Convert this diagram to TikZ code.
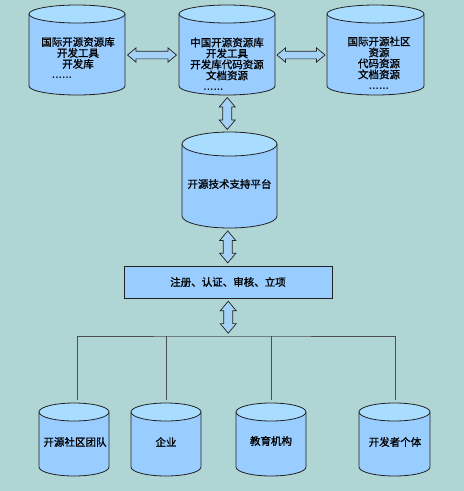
\documentclass[tikz,border=0pt]{standalone}
\usepackage{fontspec}
\newfontfamily\cjk{Noto Sans CJK SC}[AutoFakeBold=1.2]
\usetikzlibrary{shapes.arrows,calc}
\definecolor{bgc}{HTML}{B0D5D5}
\definecolor{bodyc}{HTML}{99CCFF}
\definecolor{topc}{HTML}{A8DDFF}
\definecolor{arrowc}{HTML}{A4D2F6}
\definecolor{linec}{HTML}{222222}
\tikzset{
  lbl/.style={font=\cjk\bfseries\fontsize{10.5}{11}\selectfont, align=center, inner sep=0pt},
  outl/.style={draw=linec, line width=0.8pt},
  tree/.style={draw=linec!80, line width=0.8pt},
  darrowh/.style={double arrow, draw=linec, fill=arrowc, line width=0.7pt, inner sep=3.5pt,
    double arrow head extend=3.2pt, double arrow tip angle=80, minimum width=14pt},
  darrowv/.style={double arrow, draw=linec, fill=arrowc, line width=0.7pt, inner sep=4.2pt,
    double arrow head extend=3.5pt, double arrow tip angle=80, minimum width=15.5pt, shape border rotate=90},
}
% name, cx, ytop, ybot, rx, ry
\newcommand\mycyl[6]{%
  \fill[bodyc] (#2-#5,#3+#6) -- (#2-#5,#4-#6) arc[start angle=180,end angle=0,x radius=#5,y radius=#6] -- (#2+#5,#3+#6) -- cycle;
  \draw[outl] (#2-#5,#3+#6) -- (#2-#5,#4-#6) arc[start angle=180,end angle=0,x radius=#5,y radius=#6] -- (#2+#5,#3+#6);
  \draw[outl, fill=topc] (#2,#3+#6) ellipse[x radius=#5, y radius=#6];
  \node[name=#1, minimum width={2*#5pt}, minimum height={(#4-#3)*1pt}, inner sep=0pt] at (#2,{(#3+#4)/2}) {};
}
\begin{document}
\begin{tikzpicture}[x=1pt,y=-1pt]
\fill[bgc] (0,0) rectangle (464,491);
\useasboundingbox (0,0) rectangle (464,491);

% top row
\mycyl{L}{77}{5}{95}{48}{9}
\mycyl{M}{227}{5}{95}{48}{9}
\mycyl{Rt}{375.5}{5}{95}{48.5}{9}
\node[lbl, name=Ltxt] at (78,58) {国际开源资源库\\开发工具\\开发库\\{\rmfamily\bfseries ......}\hspace*{32pt}};
\node[lbl, name=Mtxt] at (227,64) {中国开源资源库\\开发工具\\开发库代码资源\\文档资源\\{\rmfamily\bfseries ......}\hspace*{27pt}};
\node[lbl, name=Rtxt] at (379,63) {国际开源社区\\资源\\代码资源\\文档资源\\{\rmfamily\bfseries ......}};

% platform
\mycyl{P}{229.5}{132}{228}{47.5}{12}
\node[lbl, name=Ptxt] at (229.5,184) {开源技术支持平台};

% register box
\node[lbl, name=R, draw=linec, line width=0.8pt, fill=bodyc, minimum width=208pt, minimum height=32pt] at (228,282) {注册、认证、审核、立项};

% bottom row
\mycyl{B1}{74}{403}{476}{35}{9}
\mycyl{B2}{166}{403}{476}{35}{9}
\mycyl{B3}{271}{403}{476}{35}{9}
\mycyl{B4}{394.5}{403}{476}{35.5}{9}
\node[lbl, name=B1txt] at (75,442) {开源社区团队};
\node[lbl, name=B2txt] at (166,442) {企业};
\node[lbl, name=B3txt] at (271,441) {教育机构};
\node[lbl, name=B4txt] at (395,442) {开发者个体};

% block arrows
\node[darrowh, name=aLM, minimum height=49pt] at ($(L.east)!0.5!(M.west)+(0,5)$) {};
\node[darrowh, name=aMR, minimum height=48pt] at ($(M.east)!0.5!(Rt.west)+(0,5)$) {};
\node[darrowv, name=aMP, minimum height=32pt] at ($(M.south)!0.5!(P.north)+(-1,0)$) {};
\node[darrowv, name=aPR, minimum height=32pt] at ($(P.south)!0.5!(R.north)+(-1,0)$) {};
\coordinate (bus) at (228.5,336);
\node[darrowv, name=aRB, minimum height=32pt] at ($(R.south)!0.5!(bus)$) {};

% tree
\draw[tree] ($(B1.north)+(3,-3)$) |- (bus) -| ($(B4.north)+(0.5,-3)$);
\draw[tree] (bus -| B2.north) -- ($(B2.north)+(0,-3)$);
\draw[tree] (bus -| B3.north) -- ($(B3.north)+(0,-3)$);
\end{tikzpicture}
\end{document}
